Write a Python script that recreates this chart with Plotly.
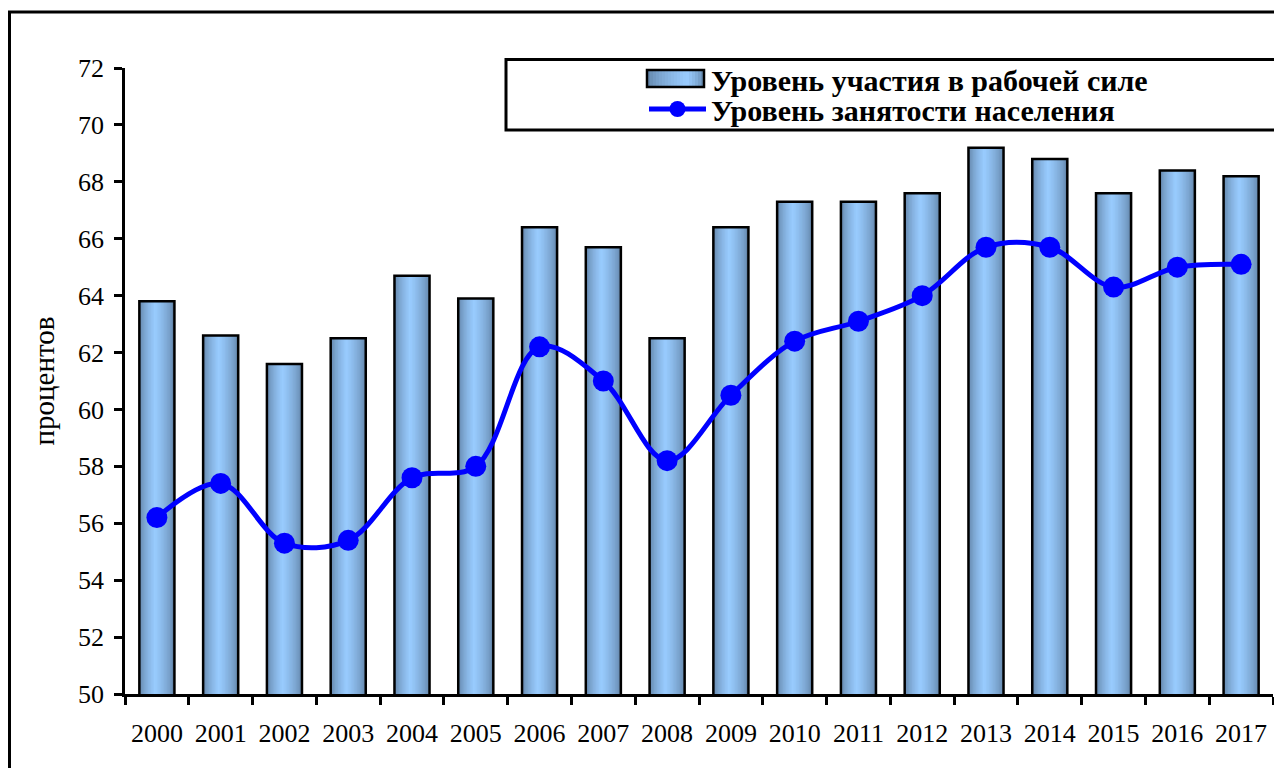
import plotly.graph_objects as go

years = [str(y) for y in range(2000, 2018)]
participation = [63.8, 62.6, 61.6, 62.5, 64.7, 63.9, 66.4, 65.7, 62.5, 66.4,
                 67.3, 67.3, 67.6, 69.2, 68.8, 67.6, 68.4, 68.2]
employment = [56.2, 57.4, 55.3, 55.4, 57.6, 58.0, 62.2, 61.0, 58.2, 60.5,
              62.4, 63.1, 64.0, 65.7, 65.7, 64.3, 65.0, 65.1]

name_bar = "Уровень участия в рабочей силе"
name_line = "Уровень занятости населения"

FONT = "Liberation Serif, Times New Roman, serif"
BAR_W = 0.55
N = 24

def grad_color(t, c=0.45):
    dark = (92, 124, 158)
    light = (153, 204, 255)
    f = t / c if t <= c else (1 - t) / (1 - c)
    f = max(0.0, f) ** 0.6
    r = [round(d + (l - d) * f) for d, l in zip(dark, light)]
    return "rgb(%d,%d,%d)" % tuple(r)

# plot-area pixel geometry (page coords) for paper conversions
PX0, PX1, PY0, PY1 = 125, 1273, 68, 694
def px(x):
    return (x - PX0) / (PX1 - PX0)
def py(y):
    return (PY1 - y) / (PY1 - PY0)

fig = go.Figure()

# legend entry for bars (symbol drawn as gradient swatch below)
fig.add_trace(go.Bar(x=years, y=[None] * len(years), name=name_bar,
                     marker=dict(color="rgba(0,0,0,0)", line=dict(color="rgba(0,0,0,0)", width=0)),
                     showlegend=True, legend="legend"))

strip = BAR_W / N
for i in range(N):
    t = (i + 0.5) / N
    fig.add_trace(go.Bar(x=years, y=participation, width=BAR_W - i * strip,
                         offset=-BAR_W / 2 + i * strip,
                         marker=dict(color=grad_color(t), line=dict(width=0)),
                         showlegend=False, hoverinfo="skip"))

fig.add_trace(go.Bar(x=years, y=participation, width=BAR_W, offset=-BAR_W / 2,
                     marker=dict(color="rgba(0,0,0,0)", line=dict(color="black", width=2.5)),
                     showlegend=False, name=name_bar))

fig.add_trace(go.Scatter(x=years, y=employment, name=name_line, mode="lines+markers",
                         line=dict(color="#0000ff", width=5, shape="spline", smoothing=1),
                         marker=dict(color="#0000ff", size=21),
                         legend="legend2"))

legfont = dict(family=FONT, size=30, color="black", weight="bold")
tickfont = dict(family=FONT, size=26, color="black")

shapes = [
    dict(type="rect", xref="paper", yref="paper", x0=px(9.5), x1=px(1300), y0=py(800),
         y1=py(12), line=dict(color="black", width=3), fillcolor="rgba(0,0,0,0)",
         layer="below"),
    dict(type="rect", xref="paper", yref="paper", x0=px(506), x1=px(1278), y0=py(130),
         y1=py(59.5), line=dict(color="black", width=3), fillcolor="white",
         layer="below"),
]
# legend swatch with horizontal gradient
SW0, SW1, SY0, SY1 = 647, 704, 70, 87
M = 19
sw = (SW1 - SW0) / M
for i in range(M):
    t = (i + 0.5) / M
    shapes.append(dict(type="rect", xref="paper", yref="paper",
                       x0=px(SW0 + i * sw), x1=px(SW1), y0=py(SY1), y1=py(SY0),
                       line=dict(width=0), fillcolor=grad_color(t, 0.7), layer="above"))
shapes.append(dict(type="rect", xref="paper", yref="paper", x0=px(SW0), x1=px(SW1),
                   y0=py(SY1), y1=py(SY0), line=dict(color="black", width=2.5),
                   fillcolor="rgba(0,0,0,0)", layer="above"))

fig.update_layout(
    width=1266, height=760,
    margin=dict(l=117, r=1, t=60, b=74),
    paper_bgcolor="white", plot_bgcolor="white",
    barmode="overlay",
    font=dict(family=FONT, size=26, color="black"),
    showlegend=True,
    legend=dict(x=px(644), y=py(53), xanchor="left", yanchor="top",
                bgcolor="rgba(0,0,0,0)", borderwidth=0, font=legfont, itemwidth=57),
    legend2=dict(x=px(644), y=py(83), xanchor="left", yanchor="top",
                 bgcolor="rgba(0,0,0,0)", borderwidth=0, font=legfont, itemwidth=57),
    xaxis=dict(type="category", showline=True, linecolor="black", linewidth=2.5,
               ticks="outside", tickson="boundaries", ticklen=8, tickwidth=2.5,
               tickcolor="black", showgrid=False, tickfont=tickfont,
               ticklabelstandoff=14, range=[-0.5, 17.5]),
    yaxis=dict(range=[50, 72], dtick=2, showline=True, linecolor="black", linewidth=2.5,
               ticks="outside", ticklen=8, tickwidth=2.5, tickcolor="black",
               showgrid=False, zeroline=False, tickfont=tickfont,
               ticklabelstandoff=5,
               title=dict(text="процентов", font=dict(family=FONT, size=29, color="black"),
                          standoff=15)),
    shapes=shapes,
)

fig.write_html("out.html")
